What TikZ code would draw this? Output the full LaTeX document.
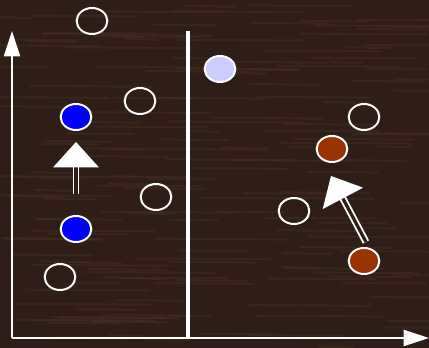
\documentclass[tikz,border=0pt]{standalone}
\usepackage{xcolor}
\usetikzlibrary{shapes.geometric,arrows.meta}

\definecolor{wood}{RGB}{46,30,23}
\definecolor{grain}{RGB}{78,52,40}
\definecolor{lilac}{RGB}{204,204,255}
\definecolor{rust}{RGB}{153,51,0}

\tikzset{
  dot/.style={ellipse, draw=white, line width=1.5pt, minimum width=23pt, minimum height=19.5pt, inner sep=0pt},
  axis/.style={white, line width=1.5pt, -{Triangle[length=19pt,width=12pt]}},
  push/.style={draw=white, line width=1.4pt, double=wood, double distance=2.4pt, -{Triangle[length=19pt,width=34pt]}}
}

\begin{document}
\begin{tikzpicture}[x=0.75pt,y=0.75pt,yscale=-1,xscale=1]

% background
\fill[wood] (0,0) rectangle (429,348);
\useasboundingbox (0,0) rectangle (429,348);

% wood grain
\pgfmathsetseed{7}
\foreach \k in {1,...,160}{
  \pgfmathsetmacro\gx{rnd*420-20}
  \pgfmathsetmacro\gy{rnd*348}
  \pgfmathsetmacro\gl{30+rnd*110}
  \draw[grain, line width=1.6pt, opacity=0.35, line cap=round] (\gx,\gy) -- ++(\gl,0.8);
}

% axes
\coordinate (origin) at (12,338);
\coordinate (ytop) at (12,31);
\coordinate (xend) at (429,338);
\draw[axis] (origin) -- (ytop);
\draw[axis] (origin) -- (xend);

% divider
\coordinate (divtop) at (188,31);
\coordinate (divbot) at (188,338);
\draw[white, line width=3pt] (divtop) -- (divbot);

% empty dots
\node[dot] (e1) at (92,21) {};
\node[dot] (e2) at (140,101) {};
\node[dot] (e3) at (156,197) {};
\node[dot] (e4) at (60,277) {};
\node[dot] (e5) at (364,117) {};
\node[dot] (e6) at (294,211) {};

% filled dots
\node[dot, fill=blue] (b1) at (76,117) {};
\node[dot, fill=blue] (b2) at (76,229) {};
\node[dot, fill=lilac] (l1) at (220,69) {};
\node[dot, fill=rust] (r1) at (332,149) {};
\node[dot, fill=rust] (r2) at (364,261) {};

% moves
\coordinate (pushAfrom) at (76,194);
\coordinate (pushAto) at (76,142);
\coordinate (pushBfrom) at (366,242);
\coordinate (pushBto) at (331,176);
\draw[push] (pushAfrom) -- (pushAto);
\draw[push] (pushBfrom) -- (pushBto);

\end{tikzpicture}
\end{document}
